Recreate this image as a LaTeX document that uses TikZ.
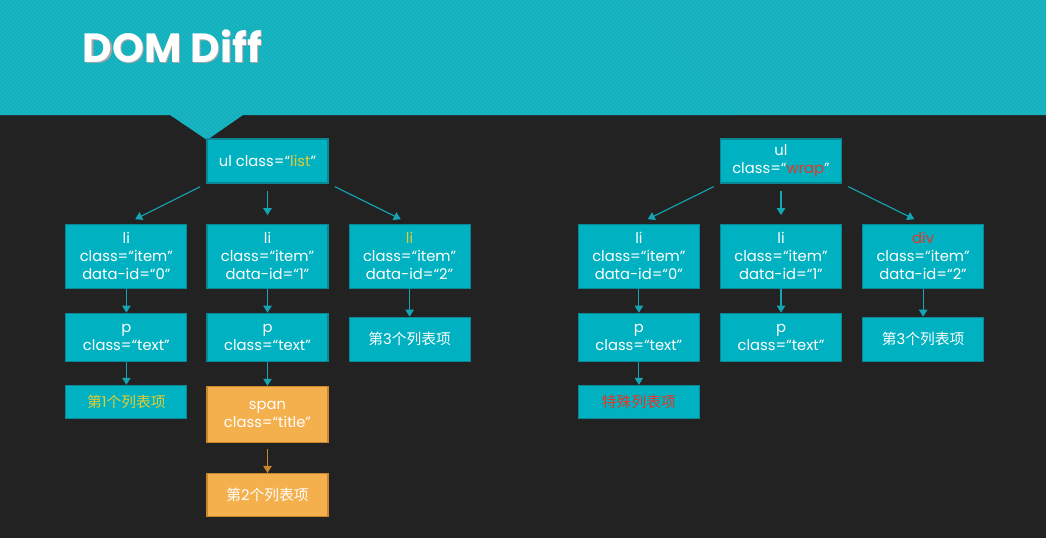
\documentclass[tikz,border=0pt]{standalone}
\usepackage{fontspec}
\setmainfont{Poppins}
\newfontfamily\cjk{Noto Sans CJK SC}
\usetikzlibrary{positioning, arrows.meta}
\definecolor{bgdark}{RGB}{34,34,34}
\definecolor{banner}{RGB}{16,176,190}
\definecolor{boxteal}{RGB}{0,178,193}
\definecolor{boxedge}{RGB}{10,135,148}
\definecolor{boxorange}{RGB}{245,176,78}
\definecolor{orangeedge}{RGB}{200,135,45}
\definecolor{arrteal}{RGB}{20,165,180}
\definecolor{hiyellow}{RGB}{228,204,50}
\definecolor{hired}{RGB}{232,52,38}

\begin{document}
\begin{tikzpicture}[
    box/.style={draw=boxedge, line width=0.8pt, fill=boxteal, rectangle, minimum width=3.025cm,
        text=white, align=center, font=\fontsize{10.5}{12.8}\selectfont, inner sep=2pt},
    orangebox/.style={box, draw=orangeedge, fill=boxorange},
    arr/.style={-{Triangle[length=5pt,width=6pt]}, line width=0.8pt, draw=arrteal},
    orangearr/.style={arr, draw=orangeedge}
]
    \useasboundingbox (0,0) rectangle (26.15,-13.45);
    \fill[bgdark] (0,0) rectangle (26.15,-13.45);
    % banner with faint stripes
    \fill[banner] (0,0) -- (26.15,0) -- (26.15,-2.875) -- (6.075,-2.875) -- (5.175,-3.5)
        -- (4.25,-2.875) -- (0,-2.875) -- cycle;
    \begin{scope}
        \clip (0,0) -- (26.15,0) -- (26.15,-2.875) -- (6.075,-2.875) -- (5.175,-3.5)
            -- (4.25,-2.875) -- (0,-2.875) -- cycle;
        \foreach \s in {-4,-3.9,...,26.2}
            \draw[white, opacity=0.08, line width=0.7pt] (\s,0.4) -- (\s+4,-3.6);
    \end{scope}
    \node[anchor=base west, text=black!35, font=\fontsize{29}{29}\selectfont\bfseries] at (1.98,-1.58) {DOM Diff};
    \node[anchor=base west, text=white, font=\fontsize{29}{29}\selectfont\bfseries] (title) at (1.95,-1.55) {DOM Diff};

    % old tree
    \node[box, minimum height=1.1cm] (ulA) at (6.6875,-4.025) {ul class=“\textcolor{hiyellow}{list}”};
    \node[box, minimum height=1.6cm] (liA1) [below=1cm of ulA] {li\\class=“item”\\data-id=“1”};
    \node[box, minimum height=1.6cm] (liA0) [left=0.475cm of liA1] {li\\class=“item”\\data-id=“0”};
    \node[box, minimum height=1.6cm] (liA2) [right=0.5cm of liA1] {\textcolor{hiyellow}{li}\\class=“item”\\data-id=“2”};
    \node[box, minimum height=1.2cm] (pA0) [below=0.6cm of liA0] {p\\class=“text”};
    \node[box, minimum height=1.2cm] (pA1) [below=0.6cm of liA1] {p\\class=“text”};
    \node[box, minimum height=1.1cm] (txtA3) [below=0.7cm of liA2] {{\cjk 第}3{\cjk 个列表项}};
    \node[box, minimum height=0.825cm, text=hiyellow] (txtA1) [below=0.575cm of pA0] {{\cjk 第}1{\cjk 个列表项}};
    \node[orangebox, minimum height=1.4cm] (spanA) [below=0.6cm of pA1] {span\\class=“title”};
    \node[orangebox, minimum height=1.075cm] (txtA2) [below=0.75cm of spanA] {{\cjk 第}2{\cjk 个列表项}};

    \draw[arr, shorten <=5pt, shorten >=7pt] (ulA.south west) -- (liA0.north);
    \draw[arr, shorten <=5pt, shorten >=6pt] (ulA.south) -- (liA1.north);
    \draw[arr, shorten <=5pt, shorten >=7pt] (ulA.south east) -- (liA2.north);
    \draw[arr] (liA0) -- (pA0);
    \draw[arr] (liA1) -- (pA1);
    \draw[arr] (liA2) -- (txtA3);
    \draw[arr] (pA0) -- (txtA1);
    \draw[arr] (pA1) -- (spanA);
    \draw[orangearr, shorten <=4pt] (spanA) -- (txtA2);

    % new tree
    \node[box, minimum height=1.1cm] (ulB) at (19.525,-4.025) {ul\\class=“\textcolor{hired}{wrap}”};
    \node[box, minimum height=1.6cm] (liB1) [below=1cm of ulB] {li\\class=“item”\\data-id=“1”};
    \node[box, minimum height=1.6cm] (liB0) [left=0.5cm of liB1] {li\\class=“item”\\data-id=“0”};
    \node[box, minimum height=1.6cm] (divB) [right=0.5cm of liB1] {\textcolor{hired}{div}\\class=“item”\\data-id=“2”};
    \node[box, minimum height=1.2cm] (pB0) [below=0.6cm of liB0] {p\\class=“text”};
    \node[box, minimum height=1.2cm] (pB1) [below=0.6cm of liB1] {p\\class=“text”};
    \node[box, minimum height=1.1cm] (txtB3) [below=0.7cm of divB] {{\cjk 第}3{\cjk 个列表项}};
    \node[box, minimum height=0.825cm, text=hired, font=\cjk\fontsize{10.5}{12.8}\selectfont] (txtB1) [below=0.575cm of pB0] {特殊列表项};

    \draw[arr, shorten <=5pt, shorten >=7pt] (ulB.south west) -- (liB0.north);
    \draw[arr, shorten <=5pt, shorten >=6pt] (ulB.south) -- (liB1.north);
    \draw[arr, shorten <=5pt, shorten >=7pt] (ulB.south east) -- (divB.north);
    \draw[arr] (liB0) -- (pB0);
    \draw[arr] (liB1) -- (pB1);
    \draw[arr] (divB) -- (txtB3);
    \draw[arr] (pB0) -- (txtB1);
\end{tikzpicture}
\end{document}
